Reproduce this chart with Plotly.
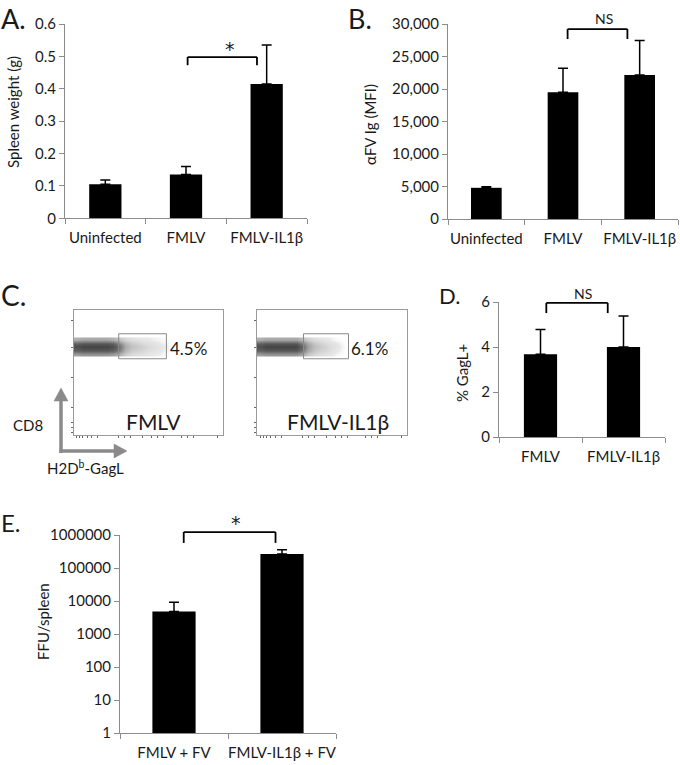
import plotly.graph_objects as go

# ---------------- data ----------------
a_cats = ["Uninfected", "FMLV", "FMLV-IL1β"]
a_vals = [0.105, 0.135, 0.415]
a_err = [0.013, 0.025, 0.12]
a_ticks = [0, 0.1, 0.2, 0.3, 0.4, 0.5, 0.6]
a_ticktext = ["0", "0.1", "0.2", "0.3", "0.4", "0.5", "0.6"]

b_cats = ["Uninfected", "FMLV", "FMLV-IL1β"]
b_vals = [4800, 19500, 22150]
b_err = [150, 3700, 5300]
b_ticks = [0, 5000, 10000, 15000, 20000, 25000, 30000]

d_cats = ["FMLV", "FMLV-IL1β"]
d_vals = [3.68, 4.0]
d_err = [1.1, 1.38]
d_ticks = [0, 2, 4, 6]

e_cats = ["FMLV + FV", "FMLV-IL1β + FV"]
e_vals = [4800, 265000]
e_err = [4300, 92000]
e_ticks = [1, 10, 100, 1000, 10000, 100000, 1000000]
e_ticktext = ["1", "10", "100", "1000", "10000", "100000", "1000000"]

# flow cytometry density (estimated gray intensity of dot cloud)
flow_x = [2, 6, 10, 14, 18, 22, 26, 30, 34, 38, 42, 46, 50, 54, 58, 62]
flow_y = [64.5, 67.5, 70.5, 73.5, 76.5]
flow1_z = [
    [0.45, 0.5, 0.5, 0.5, 0.5, 0.5, 0.45, 0.35, 0.2, 0.12, 0.1, 0.08, 0.06, 0.05, 0.04, 0.02],
    [0.8, 0.85, 0.85, 0.85, 0.85, 0.85, 0.8, 0.65, 0.35, 0.22, 0.18, 0.14, 0.1, 0.08, 0.06, 0.03],
    [0.9, 0.95, 0.95, 0.95, 0.95, 0.95, 0.9, 0.75, 0.4, 0.28, 0.22, 0.18, 0.12, 0.1, 0.07, 0.04],
    [0.8, 0.85, 0.85, 0.85, 0.85, 0.85, 0.8, 0.6, 0.35, 0.22, 0.18, 0.12, 0.1, 0.08, 0.05, 0.03],
    [0.35, 0.4, 0.4, 0.4, 0.4, 0.4, 0.35, 0.25, 0.15, 0.1, 0.08, 0.06, 0.05, 0.04, 0.03, 0.02],
]
flow2_z = [
    [0.45, 0.5, 0.5, 0.5, 0.5, 0.5, 0.5, 0.4, 0.22, 0.14, 0.1, 0.08, 0.05, 0.03, 0.02, 0.0],
    [0.8, 0.85, 0.85, 0.85, 0.85, 0.85, 0.85, 0.7, 0.4, 0.25, 0.18, 0.14, 0.08, 0.05, 0.02, 0.0],
    [0.9, 0.95, 0.95, 0.95, 0.95, 0.95, 0.95, 0.8, 0.45, 0.3, 0.22, 0.16, 0.1, 0.06, 0.03, 0.0],
    [0.8, 0.85, 0.85, 0.85, 0.85, 0.85, 0.85, 0.65, 0.4, 0.25, 0.18, 0.12, 0.08, 0.05, 0.02, 0.0],
    [0.35, 0.4, 0.4, 0.4, 0.4, 0.4, 0.4, 0.3, 0.18, 0.12, 0.08, 0.06, 0.04, 0.02, 0.01, 0.0],
]
flow1_pct = "4.5%"
flow2_pct = "6.1%"

# ---------------- style ----------------
W, H = 680, 765
FONT = "Lato, 'Open Sans', sans-serif"
TXT = "#1a1a1a"
AX = "#8c8c8c"


def px(x):
    return x / W


def py(y):
    return 1 - y / H


fig = go.Figure()


def bar(cats, vals, errs, xa, ya):
    fig.add_trace(go.Bar(
        x=cats, y=vals, xaxis=xa, yaxis=ya,
        marker=dict(color="black", line=dict(width=0)),
        error_y=dict(type="data", symmetric=False, array=errs,
                     arrayminus=[0] * len(errs), color="black",
                     thickness=1.5, width=5),
        showlegend=False, hoverinfo="skip",
    ))


bar(a_cats, a_vals, a_err, "x", "y")
bar(b_cats, b_vals, b_err, "x2", "y2")
bar(d_cats, d_vals, d_err, "x5", "y5")
bar(e_cats, e_vals, e_err, "x6", "y6")

gray_scale = [[0, "rgba(255,255,255,0)"], [0.05, "#e8e8e8"], [1, "#3c3c3c"]]
for z, xa, ya in [(flow1_z, "x3", "y3"), (flow2_z, "x4", "y4")]:
    fig.add_trace(go.Heatmap(
        x=flow_x, y=flow_y, z=z, xaxis=xa, yaxis=ya,
        colorscale=gray_scale, zmin=0, zmax=1, showscale=False,
        zsmooth="best", hoverinfo="skip",
    ))

tickfont = dict(family=FONT, size=15, color=TXT)


def cat_x(domain, n):
    return dict(domain=domain, type="category", range=[-0.5, n - 0.5],
                showline=True, linecolor=AX, linewidth=1,
                ticks="outside", tickson="boundaries", ticklen=5,
                tickcolor=AX, tickfont=tickfont, tickangle=0,
                ticklabelstandoff=6, showgrid=False, automargin=False,
                zeroline=False, fixedrange=True)


def val_y(domain, anchor, **kw):
    d = dict(domain=domain, anchor=anchor, showline=True, linecolor=AX,
             linewidth=1, ticks="outside", ticklen=5, tickcolor=AX,
             tickfont=tickfont, showgrid=False, zeroline=False,
             automargin=False, fixedrange=True)
    d.update(kw)
    return d


flow_xt = [2, 4, 6, 9, 12, 16, 30, 34, 38, 46, 52, 56, 60, 72, 76, 80, 96]
flow_yt = [2, 6, 10, 22, 46, 70, 92]


def flow_ax(domain, anchor, tv):
    return dict(domain=domain, anchor=anchor, range=[0, 100], showline=True,
                mirror=True, linecolor="#9a9a9a", linewidth=1,
                ticks="outside", ticklen=2, tickcolor="#666",
                tickvals=tv, showticklabels=False, showgrid=False,
                zeroline=False, automargin=False, fixedrange=True)


fig.update_layout(
    width=W, height=H,
    margin=dict(l=0, r=0, t=0, b=0, pad=0, autoexpand=False),
    paper_bgcolor="white", plot_bgcolor="white", bargap=0.6,
    font=dict(family=FONT, color=TXT),
    xaxis=dict(cat_x([px(65), px(307)], 3), anchor="y"),
    yaxis=val_y([py(218.3), py(24)], "x", range=[0, 0.6],
                tickvals=a_ticks, ticktext=a_ticktext),
    xaxis2=dict(cat_x([px(448), px(678)], 3), anchor="y2"),
    yaxis2=val_y([py(219), py(24)], "x2", range=[0, 30000],
                 tickvals=b_ticks, tickformat=","),
    xaxis3=flow_ax([px(74), px(223)], "y3", flow_xt),
    yaxis3=flow_ax([py(435), py(310)], "x3", flow_yt),
    xaxis4=flow_ax([px(257), px(407)], "y4", flow_xt),
    yaxis4=flow_ax([py(435), py(310)], "x4", flow_yt),
    xaxis5=dict(cat_x([px(499), px(665)], 2), anchor="y5"),
    yaxis5=val_y([py(437), py(302)], "x5", range=[0, 6], tickvals=d_ticks),
    xaxis6=dict(cat_x([px(120), px(336)], 2), anchor="y6"),
    yaxis6=val_y([py(733), py(535)], "x6", type="log", range=[0, 6],
                 tickvals=e_ticks, ticktext=e_ticktext),
)

shapes = []
annots = []


def bracket(xr, yr, x0, x1, ytop, ybot):
    for (a, b, c, d) in [(x0, ybot, x0, ytop), (x0, ytop, x1, ytop), (x1, ytop, x1, ybot)]:
        shapes.append(dict(type="line", xref=xr, yref=yr + " domain",
                           x0=a, y0=b, x1=c, y1=d,
                           line=dict(color="black", width=1.8)))


bracket("x", "y", 1.02, 1.88, 0.83, 0.788)
bracket("x2", "y2", 1.06, 1.84, 0.974, 0.923)
bracket("x5", "y5", 0.07, 0.81, 0.993, 0.918)
bracket("x6", "y6", 0.09, 0.94, 1.015, 0.96)

# gates in flow plots
shapes.append(dict(type="rect", xref="x3", yref="y3", x0=30, x1=62, y0=61, y1=81,
                   line=dict(color="#8a8a8a", width=1)))
shapes.append(dict(type="rect", xref="x4", yref="y4", x0=31, x1=61, y0=61, y1=81,
                   line=dict(color="#8a8a8a", width=1)))

# gray CD8 / H2Db-GagL axis arrows (decorative)
ARW = "#8a8a8a"
shapes.append(dict(type="line", xref="paper", yref="paper",
                   x0=px(61), y0=py(453), x1=px(61), y1=py(400),
                   line=dict(color=ARW, width=3.5)))
shapes.append(dict(type="line", xref="paper", yref="paper",
                   x0=px(59.3), y0=py(451), x1=px(115), y1=py(451),
                   line=dict(color=ARW, width=3.5)))
shapes.append(dict(type="path", xref="paper", yref="paper",
                   path=f"M {px(61)},{py(388)} L {px(54)},{py(401)} L {px(68)},{py(401)} Z",
                   fillcolor=ARW, line=dict(color=ARW, width=0.5)))
shapes.append(dict(type="path", xref="paper", yref="paper",
                   path=f"M {px(127)},{py(451)} L {px(114)},{py(444)} L {px(114)},{py(458)} Z",
                   fillcolor=ARW, line=dict(color=ARW, width=0.5)))


def txt(text, x, y, size, xanchor="center", yanchor="middle", family=FONT, **kw):
    d = dict(text=text, x=x, y=y, xref="paper", yref="paper",
             xanchor=xanchor, yanchor=yanchor, showarrow=False,
             font=dict(family=family, size=size, color=TXT))
    d.update(kw)
    annots.append(d)


STAR = "'DejaVu Sans', sans-serif"
# significance markers
txt("*", 1.55, 0.87, 19, family=STAR, xref="x", yref="y domain")
txt("NS", 1.54, 1.03, 14, xref="x2", yref="y2 domain")
txt("NS", 0.51, 1.06, 14, xref="x5", yref="y5 domain")
txt("*", 0.57, 1.06, 19, family=STAR, xref="x6", yref="y6 domain")

# panel letters
txt("A.", px(-1), 1.0, 27, xanchor="left", yanchor="top")
txt("B.", px(346), 1.0, 27, xanchor="left", yanchor="top")
txt("C.", px(-1), py(295), 28, xanchor="left")
txt("D.", px(437), py(296), 22, xanchor="left")
txt("E.", px(-1), py(522), 24, xanchor="left")

# axis titles
txt("Spleen weight (g)", px(13), py(112), 15, textangle=-90)
txt("αFV Ig (MFI)", px(370), py(124), 15, textangle=-90)
txt("% GagL+", px(462), py(373), 15, textangle=-90)
txt("FFU/spleen", px(43), py(622), 15, textangle=-90)

# flow labels
txt(flow1_pct, px(188), py(349), 17)
txt(flow2_pct, px(369), py(349), 17)
txt("FMLV", px(153), py(421), 21)
txt("FMLV-IL1β", px(338), py(421), 21)
txt("CD8", px(28), py(425), 15)
txt("H2D<sup>b</sup>-GagL", px(85), py(467), 15)

fig.update_layout(shapes=shapes, annotations=annots)
fig.write_html(
    "out.html",
    config={"displayModeBar": False, "staticPlot": True},
    post_script="document.body.style.margin='0';document.body.style.padding='0';"
                "document.body.style.overflow='hidden';",
)
